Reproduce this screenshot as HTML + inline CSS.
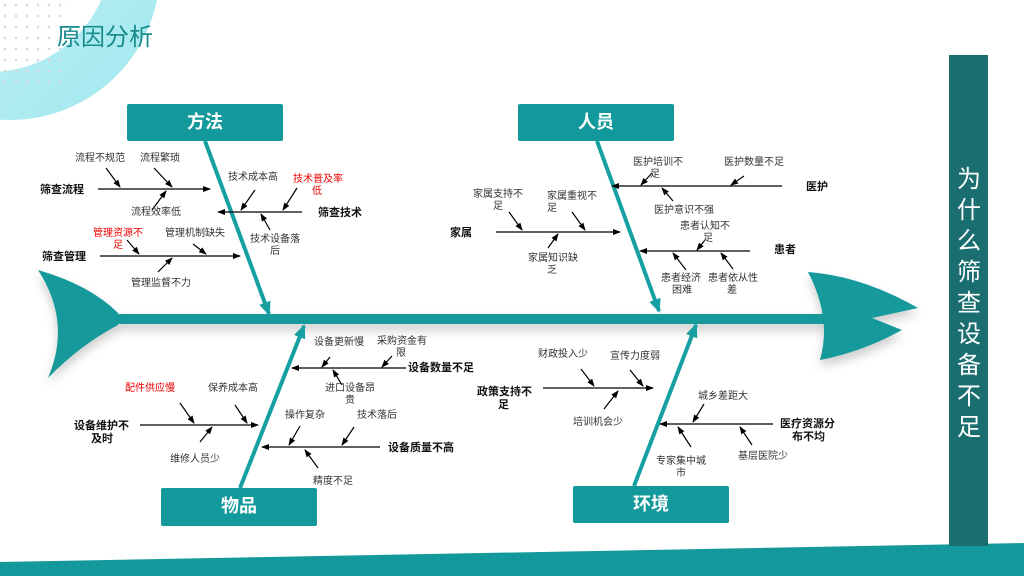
<!DOCTYPE html>
<html><head><meta charset="utf-8"><style>
html,body{margin:0;padding:0;width:1024px;height:576px;overflow:hidden;background:#fff}
svg{display:block}
text{font-family:"Liberation Sans","Noto Sans CJK SC",sans-serif}
.s{font-size:10px;fill:#333}
.r{font-size:10px;fill:#e00}
.b{font-size:11px;font-weight:bold;fill:#111}
.c{font-size:18px;font-weight:bold;fill:#fff}
</style></head><body>
<svg width="1024" height="576" viewBox="0 0 1024 576">
<defs>
<marker id="a" markerWidth="8" markerHeight="8" refX="7" refY="4" orient="auto" markerUnits="userSpaceOnUse"><path d="M0,1 L8,4 L0,7Z" fill="#000"/></marker>
<marker id="t" markerWidth="14" markerHeight="12" refX="12" refY="6" orient="auto" markerUnits="userSpaceOnUse"><path d="M0,0 L14,6 L0,12Z" fill="#17a0a2"/></marker>
<linearGradient id="g" x1="0" y1="0" x2="1" y2="1"><stop offset="0" stop-color="#d8f6f8"/><stop offset="1" stop-color="#9ee8ee"/></linearGradient>
<filter id="sh" x="-20%" y="-20%" width="140%" height="160%"><feDropShadow dx="0" dy="6" stdDeviation="5" flood-color="#000" flood-opacity="0.2"/></filter>
<pattern id="dots" width="11" height="11" patternUnits="userSpaceOnUse"><circle cx="5" cy="5" r="1.3" fill="#d8d8d8"/></pattern>
</defs>
<circle cx="10" cy="-30" r="150" fill="url(#g)"/>
<circle cx="-10" cy="-50" r="122" fill="#fff"/>
<rect x="0" y="0" width="70" height="85" fill="url(#dots)"/>
<text x="57" y="45" font-size="24" fill="#1a8a8c">原因分析</text>

<path d="M0,562 L1024,543 L1024,576 L0,576Z" fill="#13999b"/>
<rect x="949" y="55" width="39" height="491" fill="#1a6e70"/>
<g fill="#fff" font-size="24" text-anchor="middle">
<text x="969" y="187">为</text><text x="969" y="218">什</text><text x="969" y="249">么</text><text x="969" y="280">筛</text><text x="969" y="311">查</text><text x="969" y="342">设</text><text x="969" y="373">备</text><text x="969" y="404">不</text><text x="969" y="435">足</text>
</g>

<g filter="url(#sh)" fill="#13999b">
<path d="M38,270 Q90,285 118,313 L118,325 Q80,345 48,378 Q72,322 38,270Z"/>
<rect x="112" y="314" width="720" height="10"/>
<path d="M808,272 Q862,276 918,308 L872,318 L902,330 Q862,352 820,360 Q832,318 808,272Z"/>
</g>

<g stroke="#17a0a2" stroke-width="4" marker-end="url(#t)">
<line x1="205" y1="141" x2="269" y2="314"/>
<line x1="597" y1="141" x2="659" y2="311"/>
<line x1="240" y1="488" x2="304" y2="326"/>
<line x1="634" y1="486" x2="696" y2="325"/>
</g>

<g fill="#13999b">
<rect x="127" y="104" width="156" height="37" rx="2"/>
<rect x="518" y="104" width="156" height="37" rx="2"/>
<rect x="161" y="488" width="156" height="38" rx="2"/>
<rect x="573" y="486" width="156" height="37" rx="2"/>
</g>
<g class="c" text-anchor="middle">
<text x="205" y="128" class="c">方法</text>
<text x="596" y="128" class="c">人员</text>
<text x="239" y="512" class="c">物品</text>
<text x="651" y="510" class="c">环境</text>
</g>

<g stroke="#000" stroke-width="1.2" marker-end="url(#a)">
<line x1="98" y1="189" x2="210" y2="189"/>
<line x1="106" y1="168" x2="120" y2="187"/>
<line x1="154" y1="168" x2="172" y2="187"/>
<line x1="152" y1="210" x2="166" y2="191"/>
<line x1="302" y1="212" x2="218" y2="212"/>
<line x1="255" y1="190" x2="241" y2="210"/>
<line x1="297" y1="188" x2="283" y2="210"/>
<line x1="270" y1="230" x2="261" y2="214"/>
<line x1="100" y1="256" x2="240" y2="256"/>
<line x1="127" y1="240" x2="139" y2="254"/>
<line x1="193" y1="244" x2="206" y2="254"/>
<line x1="158" y1="272" x2="172" y2="258"/>

<line x1="782" y1="186" x2="612" y2="186"/>
<line x1="652" y1="173" x2="641" y2="185"/>
<line x1="744" y1="176" x2="731" y2="185"/>
<line x1="673" y1="201" x2="662" y2="188"/>
<line x1="496" y1="232" x2="620" y2="232"/>
<line x1="509" y1="212" x2="522" y2="230"/>
<line x1="572" y1="212" x2="585" y2="230"/>
<line x1="548" y1="248" x2="558" y2="234"/>
<line x1="750" y1="251" x2="640" y2="251"/>
<line x1="705" y1="240" x2="697" y2="250"/>
<line x1="686" y1="270" x2="673" y2="253"/>
<line x1="733" y1="269" x2="721" y2="253"/>

<line x1="406" y1="368" x2="292" y2="368"/>
<line x1="330" y1="357" x2="322" y2="367"/>
<line x1="392" y1="356" x2="382" y2="367"/>
<line x1="342" y1="385" x2="333" y2="370"/>
<line x1="140" y1="425" x2="258" y2="425"/>
<line x1="180" y1="403" x2="194" y2="423"/>
<line x1="235" y1="405" x2="247" y2="423"/>
<line x1="200" y1="442" x2="212" y2="427"/>
<line x1="380" y1="447" x2="262" y2="447"/>
<line x1="300" y1="426" x2="289" y2="445"/>
<line x1="354" y1="427" x2="342" y2="445"/>
<line x1="318" y1="468" x2="305" y2="450"/>

<line x1="543" y1="388" x2="653" y2="388"/>
<line x1="581" y1="369" x2="594" y2="386"/>
<line x1="630" y1="370" x2="643" y2="386"/>
<line x1="604" y1="409" x2="618" y2="391"/>
<line x1="773" y1="424" x2="660" y2="424"/>
<line x1="704" y1="404" x2="693" y2="422"/>
<line x1="691" y1="447" x2="678" y2="427"/>
<line x1="752" y1="445" x2="740" y2="427"/>
</g>

<!-- labels -->
<text class="b" x="40" y="193">筛查流程</text>
<text class="s" x="75" y="161">流程不规范</text>
<text class="s" x="140" y="161">流程繁琐</text>
<text class="s" x="131" y="215">流程效率低</text>
<text class="b" x="318" y="216">筛查技术</text>
<text class="s" x="228" y="180">技术成本高</text>
<text class="r" x="293" y="182">技术普及率</text>
<text class="r" x="312" y="194">低</text>
<text class="s" x="250" y="242">技术设备落</text>
<text class="s" x="270" y="254">后</text>
<text class="b" x="42" y="260">筛查管理</text>
<text class="r" x="93" y="236">管理资源不</text>
<text class="r" x="113" y="248">足</text>
<text class="s" x="165" y="236">管理机制缺失</text>
<text class="s" x="131" y="286">管理监督不力</text>

<text class="b" x="806" y="190">医护</text>
<text class="s" x="633" y="165">医护培训不</text>
<text class="s" x="650" y="177">足</text>
<text class="s" x="724" y="165">医护数量不足</text>
<text class="s" x="654" y="213">医护意识不强</text>
<text class="b" x="450" y="236">家属</text>
<text class="s" x="473" y="197">家属支持不</text>
<text class="s" x="493" y="209">足</text>
<text class="s" x="547" y="199">家属重视不</text>
<text class="s" x="547" y="211">足</text>
<text class="s" x="528" y="261">家属知识缺</text>
<text class="s" x="547" y="273">乏</text>
<text class="b" x="774" y="253">患者</text>
<text class="s" x="680" y="229">患者认知不</text>
<text class="s" x="703" y="241">足</text>
<text class="s" x="661" y="281">患者经济</text>
<text class="s" x="672" y="293">困难</text>
<text class="s" x="708" y="281">患者依从性</text>
<text class="s" x="727" y="293">差</text>

<text class="b" x="408" y="371">设备数量不足</text>
<text class="s" x="314" y="345">设备更新慢</text>
<text class="s" x="377" y="344">采购资金有</text>
<text class="s" x="396" y="356">限</text>
<text class="s" x="325" y="391">进口设备昂</text>
<text class="s" x="345" y="403">贵</text>
<text class="b" x="74" y="429">设备维护不</text>
<text class="b" x="91" y="442">及时</text>
<text class="r" x="125" y="391">配件供应慢</text>
<text class="s" x="208" y="391">保养成本高</text>
<text class="s" x="170" y="462">维修人员少</text>
<text class="b" x="388" y="451">设备质量不高</text>
<text class="s" x="285" y="418">操作复杂</text>
<text class="s" x="357" y="418">技术落后</text>
<text class="s" x="313" y="484">精度不足</text>

<text class="b" x="477" y="395">政策支持不</text>
<text class="b" x="498" y="408">足</text>
<text class="s" x="538" y="357">财政投入少</text>
<text class="s" x="610" y="359">宣传力度弱</text>
<text class="s" x="573" y="425">培训机会少</text>
<text class="b" x="780" y="427">医疗资源分</text>
<text class="b" x="792" y="440">布不均</text>
<text class="s" x="698" y="399">城乡差距大</text>
<text class="s" x="656" y="464">专家集中城</text>
<text class="s" x="676" y="476">市</text>
<text class="s" x="738" y="459">基层医院少</text>
</svg>
</body></html>
